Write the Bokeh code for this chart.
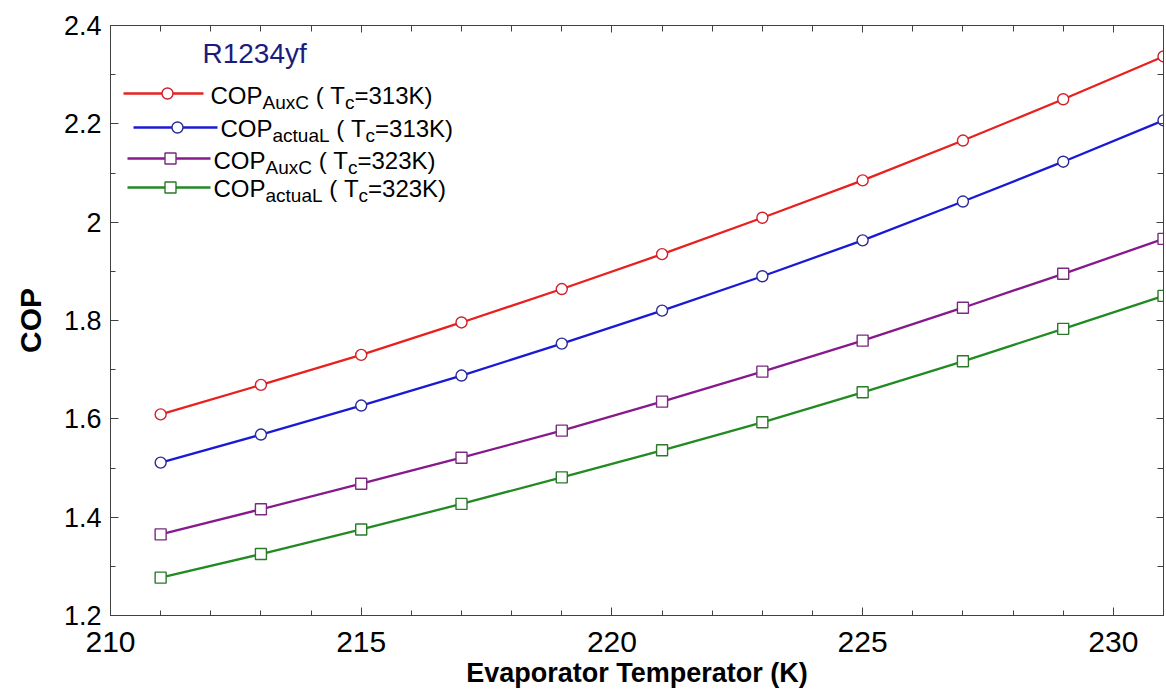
from bokeh.plotting import figure
from bokeh.models import Range1d, LinearAxis, SingleIntervalTicker, FixedTicker, CustomJSTickFormatter
from bokeh.core.properties import value
from bokeh.embed import file_html
from bokeh.resources import INLINE

# ---------------- data ----------------
evap_temp = [211, 213, 215, 217, 219, 221, 223, 225, 227, 229, 231]
cop_auxc_313 = [1.609, 1.669, 1.730, 1.796, 1.864, 1.935, 2.009, 2.085, 2.166, 2.250, 2.337]
cop_actual_313 = [1.511, 1.568, 1.627, 1.688, 1.753, 1.820, 1.890, 1.963, 2.042, 2.123, 2.207]
cop_auxc_323 = [1.365, 1.416, 1.468, 1.521, 1.576, 1.635, 1.696, 1.759, 1.826, 1.895, 1.966]
cop_actual_323 = [1.277, 1.325, 1.375, 1.427, 1.481, 1.536, 1.593, 1.654, 1.717, 1.783, 1.850]

y_major_ticks = [1.2, 1.4, 1.6, 1.8, 2.0, 2.2, 2.4]
y_minor_ticks = [1.3, 1.5, 1.7, 1.9, 2.1, 2.3]

# legend label pieces: (text, is_subscript, space_before)
legend_rows = [
    [("COP", False, 0), ("AuxC", True, 0), ("(", False, 1), ("T", False, 1), ("c", True, 0), ("=313K)", False, 0)],
    [("COP", False, 0), ("actuaL", True, 0), ("(", False, 1), ("T", False, 1), ("c", True, 0), ("=313K)", False, 0)],
    [("COP", False, 0), ("AuxC", True, 0), ("(", False, 1), ("T", False, 1), ("c", True, 0), ("=323K)", False, 0)],
    [("COP", False, 0), ("actuaL", True, 0), ("(", False, 1), ("T", False, 1), ("c", True, 0), ("=323K)", False, 0)],
]
title_text = "R1234yf"
x_label = "Evaporator Temperator (K)"
y_label = "COP"

# ---------------- style ----------------
FONT = "Liberation Sans"
colors = ["#e8201e", "#1a1ad6", "#861a8c", "#228a22"]
edge_colors = ["#d0202a", "#2a2a9a", "#7a2a80", "#2a7a2a"]
markers = ["circle", "circle", "square", "square"]
ys = [cop_auxc_313, cop_actual_313, cop_auxc_323, cop_actual_323]

FW, FH = 1053, 590

p = figure(frame_width=FW, frame_height=FH,
           x_range=Range1d(210, 231), y_range=Range1d(1.2, 2.4),
           output_backend="svg", toolbar_location=None,
           min_border_left=110, min_border_top=25, min_border_right=3, min_border_bottom=85,
           background_fill_color="white", border_fill_color="white")
p.xgrid.grid_line_color = None
p.ygrid.grid_line_color = None
p.outline_line_color = "#404040"
p.outline_line_width = 1

AX = "#404040"
xt = SingleIntervalTicker(interval=5, num_minor_ticks=5)
yt = FixedTicker(ticks=y_major_ticks, minor_ticks=y_minor_ticks)

xa = p.xaxis[0]
xa.ticker = xt
xa.axis_label = x_label
xa.axis_label_text_font = FONT
xa.axis_label_text_font_style = "bold"
xa.axis_label_text_font_size = "27px"
xa.axis_label_text_color = "black"
xa.axis_label_standoff = 3
xa.major_label_text_font = FONT
xa.major_label_text_font_size = "30px"
xa.major_label_text_color = "black"
xa.major_label_standoff = 16

ya = p.yaxis[0]
ya.ticker = yt
ya.formatter = CustomJSTickFormatter(code="return Number(tick.toFixed(1)).toString();")
ya.axis_label = y_label
ya.axis_label_text_font = FONT
ya.axis_label_text_font_style = "bold"
ya.axis_label_text_font_size = "30px"
ya.axis_label_text_color = "black"
ya.axis_label_standoff = 14
ya.major_label_text_font = FONT
ya.major_label_text_font_size = "27px"
ya.major_label_text_color = "black"
ya.major_label_standoff = 9

for ax in (xa, ya):
    ax.axis_line_color = AX
    ax.major_tick_line_color = AX
    ax.minor_tick_line_color = AX
    ax.major_tick_in = 8
    ax.major_tick_out = 0
    ax.minor_tick_in = 5
    ax.minor_tick_out = 0

blank = CustomJSTickFormatter(code="return '';")
top = LinearAxis(ticker=SingleIntervalTicker(interval=5, num_minor_ticks=5), formatter=blank)
right = LinearAxis(ticker=FixedTicker(ticks=y_major_ticks, minor_ticks=y_minor_ticks), formatter=blank)
for ax in (top, right):
    ax.major_label_standoff = 0
    ax.axis_line_color = AX
    ax.major_tick_line_color = AX
    ax.minor_tick_line_color = AX
    ax.major_tick_in = 7
    ax.major_tick_out = 0
    ax.minor_tick_in = 6
    ax.minor_tick_out = 0
p.add_layout(top, "above")
p.add_layout(right, "right")

# ---------------- series ----------------
for y, c, ec, m in zip(ys, colors, edge_colors, markers):
    p.line(evap_temp, y, line_color=c, line_width=2.3)
    p.scatter(evap_temp, y, marker=m, size=11,
              fill_color="white", line_color=ec, line_width=1.4)

# ---------------- legend (pixel coordinates inside the frame) ----------------
p.extra_x_ranges = {"px": Range1d(0, FW)}
p.extra_y_ranges = {"py": Range1d(0, FH)}

WIDTH = {" ": 278, "(": 333, ")": 333, "=": 584, "A": 667, "C": 722, "O": 778, "P": 667,
         "T": 611, "K": 667, "L": 556, "a": 556, "c": 500, "l": 222, "t": 278, "u": 556,
         "x": 500}
for d in "0123456789":
    WIDTH[d] = 556

def text_w(s, size):
    return sum(WIDTH.get(ch, 556) for ch in s) * size / 1000.0

MAIN, SUB = 24, 19
leg_line_y = [522, 488, 457, 428]
leg_line_x0 = [13, 23, 17, 17]
leg_line_x1 = [93, 107, 100, 100]
leg_marker_x = [57, 67, 60, 60]
leg_text_x = [100, 110, 103, 103]
leg_text_y = [520, 487, 455, 427]

for i in range(4):
    p.line([leg_line_x0[i], leg_line_x1[i]], [leg_line_y[i]] * 2, line_color=colors[i],
           line_width=2.3, x_range_name="px", y_range_name="py")
    p.scatter([leg_marker_x[i]], [leg_line_y[i]], marker=markers[i], size=11,
              fill_color="white", line_color=edge_colors[i], line_width=1.4,
              x_range_name="px", y_range_name="py")
    x = leg_text_x[i]
    for s, sub, sp in legend_rows[i]:
        x += sp * text_w(" ", MAIN)
        size = SUB if sub else MAIN
        yc = leg_text_y[i] - (7 if sub else 0)
        p.text([x], [yc], text=[s], text_font=value(FONT), text_font_size=f"{size}px",
               text_baseline="middle", text_align="left", text_color="black",
               x_range_name="px", y_range_name="py")
        x += text_w(s, size)

p.text([92], [562], text=[title_text], text_font=value(FONT), text_font_size="28px",
       text_baseline="middle", text_align="left", text_color="#1c1c7c",
       x_range_name="px", y_range_name="py")

open("out.html", "w").write(file_html(p, INLINE))
